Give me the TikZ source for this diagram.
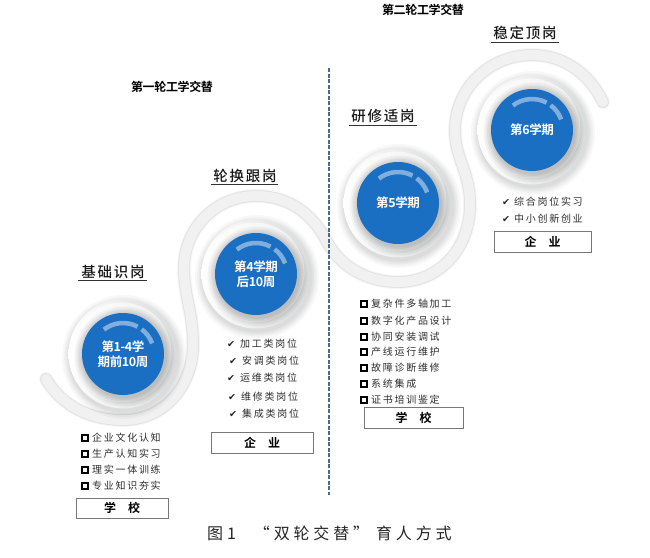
\documentclass[tikz,border=0pt]{standalone}
\usepackage{fontspec}
\setmainfont{Noto Sans CJK SC}
\newfontfamily\cjkbody[LetterSpace=17]{Noto Sans CJK SC}
\newfontfamily\cjktitle[LetterSpace=12]{Noto Sans CJK SC Medium}
\newfontfamily\cjkcap[LetterSpace=24]{Noto Sans CJK SC}
\newfontfamily\cjkbold[LetterSpace=-3]{Noto Sans CJK SC Bold}
\newfontfamily\chk{DejaVu Sans}
\usetikzlibrary{calc}
\definecolor{discblue}{HTML}{1B6FC2}
\definecolor{rimgray}{HTML}{D9DADB}
\definecolor{ribbon}{HTML}{F1F1F2}
\definecolor{ribbonedge}{HTML}{E2E3E4}
\definecolor{bodyink}{HTML}{2E2E2E}
\definecolor{dashblue}{HTML}{4A6A92}
\definecolor{boxedge}{HTML}{777777}
\tikzset{
  disclabel/.style={text=white,font=\fontsize{12.5}{15}\cjkbold,align=center,inner sep=0pt},
  titlelabel/.style={font=\fontsize{14.5}{16}\cjktitle,text=black!90,inner sep=0pt,anchor=center},
  titlerule/.style={draw=black!80,line width=.8pt},
  headlabel/.style={font=\fontsize{12}{14}\cjkbold,text=black,inner sep=0pt},
  rowlabel/.style={font=\fontsize{10}{12}\cjkbody,text=bodyink,inner sep=0pt,anchor=west},
  tickmark/.style={font=\fontsize{9.5}{11}\chk,text=black!85,inner sep=0pt},
  squaremark/.style={draw=black,line width=1.9pt,minimum size=6.5pt,inner sep=0pt},
  placebox/.style={draw=boxedge,line width=.7pt,fill=white,inner sep=0pt,font=\fontsize{12}{14}\cjkbold,text=black},
}
% node name, centre x, centre y, label
\newcommand{\platedisc}[4]{%
  \foreach \r in {62,60,58.5,57,55.5}{\fill[black,opacity=.028] (#2+1,#3+3) circle[radius=\r];}
  \shade[shading angle=-45,left color=white,right color=rimgray] (#2,#3) circle[radius=54.5];
  \fill[white,opacity=.6] (#2-1.5,#3-1.5) circle[radius=50];
  \foreach \r in {50,48,46.5,45,43.5,42}{\fill[black,opacity=.04] (#2+1.5,#3+2.5) circle[radius=\r];}
  \fill[discblue] (#2,#3) circle[radius=41];
  \draw[white,opacity=.45,line width=4.5pt] ($(#2,#3)+(-128:31)$) arc[start angle=-128,end angle=-62,radius=31];
  \draw[white,opacity=.45,line width=4.5pt] ($(#2,#3)+(-53:31)$) arc[start angle=-53,end angle=-20,radius=31];
  \node[disclabel] (#1) at (#2,#3) {#4};
}
\begin{document}
\begin{tikzpicture}[x=1pt,y=-1pt]
\useasboundingbox (0,0) rectangle (650,557);
\fill[white] (0,0) rectangle (650,557);

% ribbon
\def\ribbonpath{(46,379) .. controls (62,406) and (90,420) .. (123,420)
  .. controls (165,420) and (193,385) .. (193,345)
  .. controls (193,310) and (184,298) .. (184,268)
  .. controls (184,228) and (216,196) .. (256,196)
  .. controls (290,196) and (312,215) .. (325,238)
  .. controls (338,265) and (365,282) .. (398,282)
  .. controls (440,282) and (470,248) .. (470,205)
  .. controls (470,170) and (455,160) .. (455,130)
  .. controls (455,88) and (490,55) .. (532,55)
  .. controls (565,55) and (590,75) .. (603,102)}
\draw[black,opacity=.03,line width=14pt,line cap=round] \ribbonpath;
\draw[ribbonedge,line width=12pt,line cap=round] \ribbonpath;
\draw[ribbon,line width=10pt,line cap=round] \ribbonpath;

\platedisc{disca}{123}{354}{第1-4学\\期前10周}
\platedisc{discb}{256}{274}{第4学期\\后10周}
\platedisc{discc}{398}{203}{第5学期}
\platedisc{discd}{532}{130}{第6学期}

% divider
\coordinate (divtop) at (329,68);
\coordinate (divbot) at (329,495);
\draw[dashblue,line width=1.2pt,dash pattern=on 4pt off 1.5pt] (divtop) -- (divbot);

% headings
\node[headlabel] (head1) at (172,87) {第一轮工学交替};
\node[headlabel] (head2) at (423,10) {第二轮工学交替};

% titles
\node[titlelabel] (t1) at (113,272) {基础识岗};
\draw[titlerule] (78,280) -- (147,280);
\node[titlelabel] (t2) at (245,176) {轮换跟岗};
\draw[titlerule] (211,184) -- (278,184);
\node[titlelabel] (t3) at (383,116) {研修适岗};
\draw[titlerule] (349,125) -- (417,125);
\node[titlelabel] (t4) at (525,33) {稳定顶岗};
\draw[titlerule] (491,42) -- (559,42);

% column 1
\foreach \i/\y/\s in {1/438/企业文化认知,2/454/生产认知实习,3/470/理实一体训练,4/486/专业知识夯实}{
  \node[squaremark] (sqa\i) at (85,\y) {};
  \node[rowlabel] (rowa\i) at (92,\y) {\s};
}
\node[placebox,minimum width=92pt,minimum height=20pt] (box1) at (122,508) {学\hspace{1em}校};

% column 2
\foreach \i/\y/\x/\s in {1/344/240/加工类岗位,2/361/242/安调类岗位,3/378/240/运维类岗位,4/397/241/维修类岗位,5/414/242/集成类岗位}{
  \node[tickmark] (ticb\i) at (\x-9,\y) {✔};
  \node[rowlabel] (rowb\i) at (\x,\y) {\s};
}
\node[placebox,minimum width=102pt,minimum height=21pt] (box2) at (262,443) {企\hspace{1em}业};

% column 3
\foreach \i/\y/\s in {1/304/复杂件多轴加工,2/321/数字化产品设计,3/337/协同安装调试,4/352/产线运行维护,5/368/故障诊断维修,6/384/系统集成,7/400/证书培训鉴定}{
  \node[squaremark] (sqc\i) at (364,\y) {};
  \node[rowlabel] (rowc\i) at (371,\y) {\s};
}
\node[placebox,minimum width=99pt,minimum height=21pt] (box3) at (413.5,417.5) {学\hspace{1em}校};

% column 4
\foreach \i/\y/\s in {1/202/综合岗位实习,2/219/中小创新创业}{
  \node[tickmark] (ticd\i) at (506,\y) {✔};
  \node[rowlabel] (rowd\i) at (514,\y) {\s};
}
\node[placebox,minimum width=97pt,minimum height=21pt] (box4) at (542.5,241.5) {企\hspace{1em}业};

% caption
\node[inner sep=0pt,anchor=west,font=\fontsize{16}{18}\cjkcap,text=black!85] (cap) at (207,533) {图1\hspace{18pt}“双轮交替”\hspace{7pt}育人方式};
\end{tikzpicture}
\end{document}
